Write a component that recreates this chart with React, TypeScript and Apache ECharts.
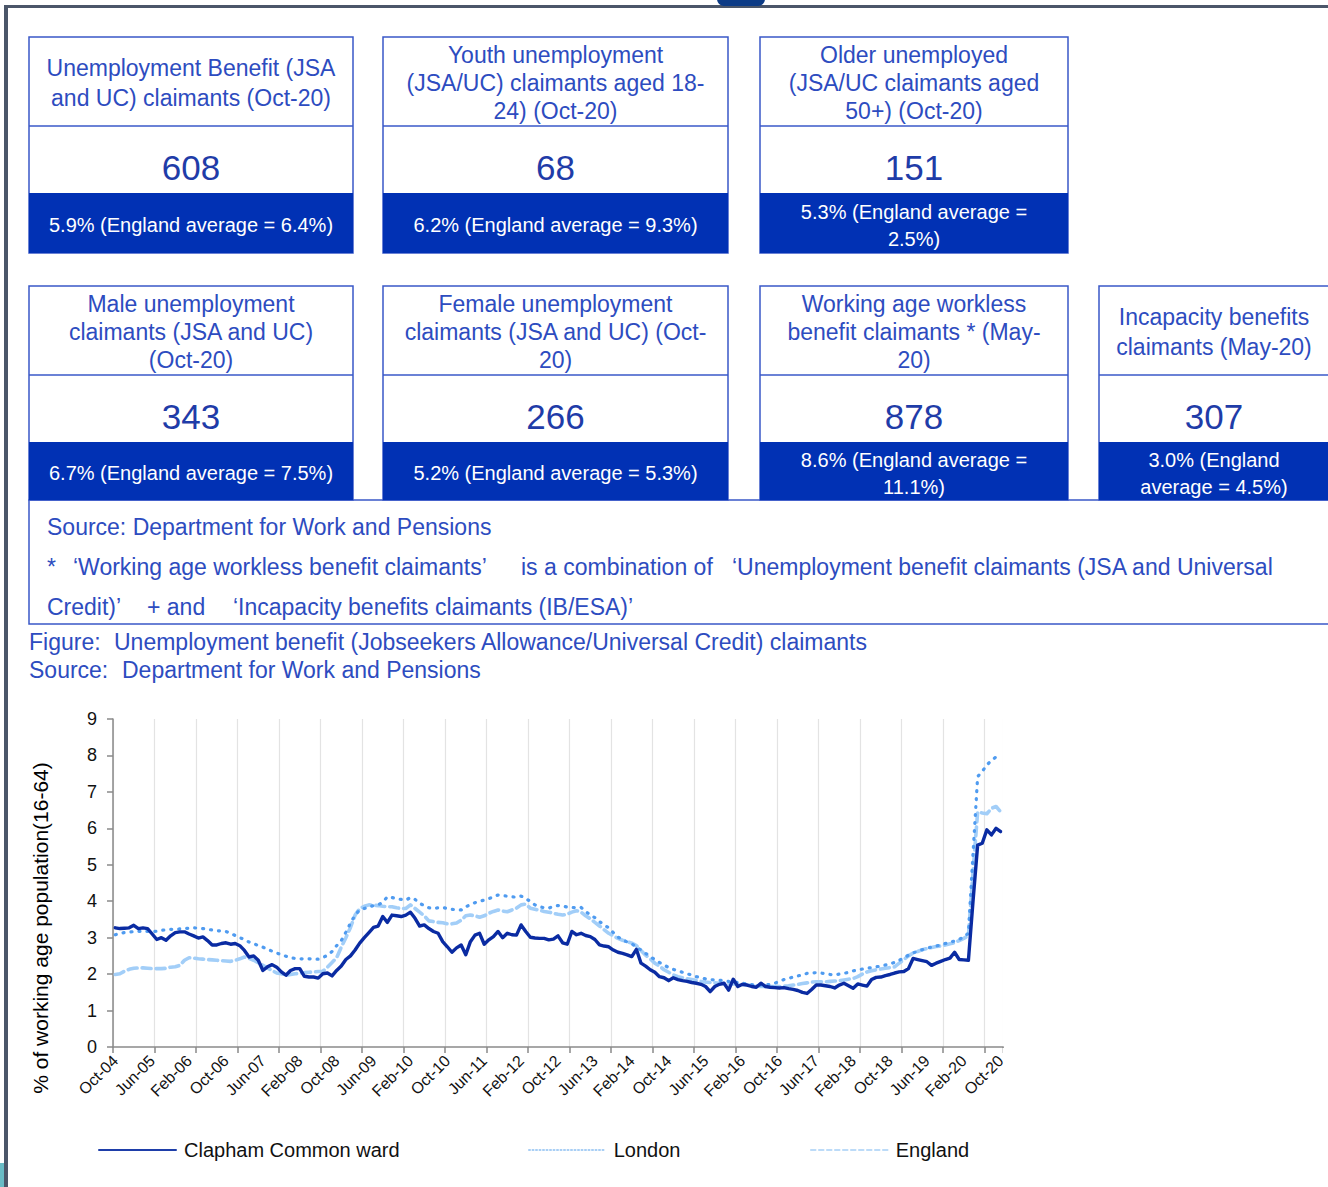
import React, { useEffect, useRef } from "react";
import * as echarts from "echarts";

// ---------------- Data ----------------
const MONTH_NAMES = ["Jan", "Feb", "Mar", "Apr", "May", "Jun", "Jul", "Aug", "Sep", "Oct", "Nov", "Dec"];
const FIRST_YEAR = 2004;
const FIRST_MONTH_INDEX = 9; // Oct-04
const MONTH_COUNT = 193; // Oct-04 .. Oct-20
const categories: string[] = Array.from({ length: MONTH_COUNT }, (_, i) => {
  const m = (FIRST_MONTH_INDEX + i) % 12;
  const y = FIRST_YEAR + Math.floor((FIRST_MONTH_INDEX + i) / 12);
  return `${MONTH_NAMES[m]}-${String(y % 100).padStart(2, "0")}`;
});

const SERIES_NAMES = ["Clapham Common ward", "London", "England"];

const claphamValues = [
  3.27, 3.25, 3.26, 3.27, 3.34, 3.25, 3.27, 3.25, 3.10, 2.95, 3.00, 2.93,
  3.05, 3.14, 3.16, 3.16, 3.10, 3.05, 2.99, 3.02, 2.92, 2.80, 2.80, 2.84,
  2.86, 2.82, 2.84, 2.78, 2.65, 2.47, 2.50, 2.38, 2.10, 2.20, 2.26, 2.19,
  2.06, 1.97, 2.10, 2.15, 2.15, 1.94, 1.92, 1.92, 1.89, 2.01, 2.03, 1.95,
  2.10, 2.22, 2.40, 2.50, 2.66, 2.85, 3.00, 3.14, 3.28, 3.32, 3.58, 3.42,
  3.62, 3.60, 3.58, 3.62, 3.70, 3.53, 3.32, 3.35, 3.25, 3.17, 3.12, 2.89,
  2.75, 2.60, 2.72, 2.80, 2.53, 2.89, 3.07, 3.12, 2.82, 2.94, 3.03, 3.17,
  3.00, 3.12, 3.08, 3.07, 3.35, 3.17, 3.01, 2.99, 2.98, 2.98, 2.94, 2.96,
  3.05, 2.86, 2.82, 3.17, 3.08, 3.12, 3.06, 3.03, 2.95, 2.80, 2.77, 2.75,
  2.66, 2.60, 2.57, 2.53, 2.48, 2.68, 2.30, 2.22, 2.12, 2.05, 1.93, 1.90,
  1.82, 1.90, 1.85, 1.82, 1.80, 1.77, 1.75, 1.72, 1.66, 1.52, 1.66, 1.72,
  1.75, 1.56, 1.86, 1.66, 1.72, 1.70, 1.66, 1.64, 1.75, 1.66, 1.64, 1.63,
  1.62, 1.63, 1.60, 1.58, 1.55, 1.50, 1.47, 1.58, 1.70, 1.70, 1.68, 1.66,
  1.62, 1.70, 1.75, 1.68, 1.61, 1.73, 1.70, 1.67, 1.85, 1.91, 1.92, 1.96,
  1.99, 2.03, 2.06, 2.07, 2.15, 2.43, 2.40, 2.37, 2.34, 2.24, 2.30, 2.35,
  2.40, 2.44, 2.60, 2.40, 2.39, 2.38, 4.00, 5.54, 5.59, 5.96, 5.82, 6.00,
  5.91,
];

const londonValues = [
  3.08, 3.12, 3.14, 3.15, 3.17, 3.17, 3.18, 3.17, 3.16, 3.18, 3.20, 3.22,
  3.23, 3.23, 3.24, 3.25, 3.26, 3.27, 3.26, 3.25, 3.23, 3.21, 3.19, 3.18,
  3.17, 3.12, 3.06, 3.00, 2.95, 2.88, 2.84, 2.78, 2.74, 2.68, 2.63, 2.58,
  2.53, 2.49, 2.45, 2.43, 2.42, 2.42, 2.42, 2.41, 2.41, 2.45, 2.52, 2.62,
  2.78, 2.92, 3.15, 3.40, 3.62, 3.76, 3.80, 3.84, 3.88, 3.90, 3.97, 4.12,
  4.10, 4.07, 4.05, 4.03, 4.10, 4.05, 3.94, 3.88, 3.82, 3.80, 3.82, 3.83,
  3.80, 3.78, 3.76, 3.76, 3.85, 3.90, 3.96, 4.00, 4.03, 4.07, 4.12, 4.17,
  4.15, 4.14, 4.12, 4.11, 4.14, 4.08, 3.99, 3.90, 3.85, 3.82, 3.81, 3.86,
  3.88, 3.87, 3.84, 3.83, 3.82, 3.83, 3.72, 3.62, 3.55, 3.44, 3.35, 3.27,
  3.14, 3.02, 2.94, 2.88, 2.83, 2.75, 2.66, 2.57, 2.48, 2.40, 2.32, 2.25,
  2.18, 2.13, 2.09, 2.05, 2.01, 1.97, 1.93, 1.90, 1.87, 1.85, 1.84, 1.83,
  1.82, 1.80, 1.78, 1.77, 1.75, 1.73, 1.71, 1.70, 1.70, 1.70, 1.72, 1.75,
  1.80, 1.85, 1.88, 1.92, 1.95, 1.98, 2.02, 2.03, 2.04, 2.03, 2.01, 1.99,
  1.98, 2.00, 2.02, 2.05, 2.09, 2.11, 2.14, 2.16, 2.18, 2.20, 2.22, 2.25,
  2.28, 2.32, 2.38, 2.45, 2.52, 2.58, 2.63, 2.67, 2.71, 2.74, 2.77, 2.80,
  2.84, 2.87, 2.91, 2.95, 3.03, 3.12, 5.30, 7.42, 7.56, 7.74, 7.86, 7.96,
  8.00,
];

const englandValues = [
  1.99, 2.01, 2.08, 2.13, 2.16, 2.17, 2.17, 2.16, 2.15, 2.15, 2.15, 2.16,
  2.19, 2.20, 2.24, 2.38, 2.45, 2.44, 2.42, 2.41, 2.40, 2.39, 2.38, 2.37,
  2.36, 2.35, 2.38, 2.42, 2.47, 2.43, 2.38, 2.31, 2.24, 2.17, 2.10, 2.03,
  2.01, 1.97, 1.99, 2.01, 2.02, 2.04, 2.05, 2.06, 2.07, 2.08, 2.19, 2.32,
  2.45, 2.74, 3.00, 3.28, 3.62, 3.80, 3.86, 3.90, 3.89, 3.88, 3.86, 3.85,
  3.85, 3.82, 3.80, 3.80, 3.90, 3.80, 3.70, 3.60, 3.46, 3.44, 3.42, 3.41,
  3.38, 3.38, 3.40, 3.48, 3.60, 3.62, 3.60, 3.56, 3.60, 3.67, 3.72, 3.76,
  3.73, 3.71, 3.76, 3.81, 3.90, 3.92, 3.81, 3.78, 3.75, 3.72, 3.70, 3.67,
  3.64, 3.62, 3.64, 3.70, 3.74, 3.70, 3.60, 3.52, 3.42, 3.32, 3.22, 3.12,
  3.05, 2.98, 2.93, 2.89, 2.85, 2.78, 2.65, 2.52, 2.42, 2.30, 2.22, 2.12,
  2.05, 1.98, 1.93, 1.90, 1.87, 1.85, 1.82, 1.80, 1.78, 1.77, 1.76, 1.75,
  1.74, 1.73, 1.73, 1.72, 1.71, 1.70, 1.69, 1.68, 1.66, 1.66, 1.66, 1.66,
  1.66, 1.67, 1.68, 1.70, 1.72, 1.74, 1.76, 1.78, 1.79, 1.79, 1.79, 1.80,
  1.81, 1.82, 1.84, 1.86, 1.88, 1.93, 2.00, 2.06, 2.09, 2.12, 2.14, 2.16,
  2.18, 2.20, 2.30, 2.40, 2.50, 2.58, 2.62, 2.67, 2.70, 2.73, 2.76, 2.77,
  2.80, 2.83, 2.86, 2.92, 2.98, 3.05, 4.80, 6.45, 6.42, 6.40, 6.55, 6.60,
  6.45,
];

const Y_MIN = 0;
const Y_MAX = 9;
const Y_INTERVAL = 1;
const Y_AXIS_TITLE = "% of working age population(16-64)";

// Summary boxes
const BOX_TITLES = [
  ["Unemployment Benefit (JSA", "and UC) claimants (Oct-20)"],
  ["Youth unemployment", "(JSA/UC) claimants aged 18-", "24) (Oct-20)"],
  ["Older unemployed", "(JSA/UC claimants aged", "50+) (Oct-20)"],
  ["Male unemployment", "claimants (JSA and UC)", "(Oct-20)"],
  ["Female unemployment", "claimants (JSA and UC) (Oct-", "20)"],
  ["Working age workless", "benefit claimants * (May-", "20)"],
  ["Incapacity benefits", "claimants (May-20)"],
];
const BOX_VALUES = ["608", "68", "151", "343", "266", "878", "307"];
const BOX_NOTES = [
  ["5.9% (England average = 6.4%)"],
  ["6.2% (England average = 9.3%)"],
  ["5.3% (England average =", "2.5%)"],
  ["6.7% (England average = 7.5%)"],
  ["5.2% (England average = 5.3%)"],
  ["8.6% (England average =", "11.1%)"],
  ["3.0% (England", "average = 4.5%)"],
];
const FOOTNOTE_SEGMENTS = [
  ["Source: Department for Work and Pensions"],
  ["*", "‘Working age workless benefit claimants’", "is a combination of", "‘Unemployment benefit claimants (JSA and Universal"],
  ["Credit)’", "+ and", "‘Incapacity benefits claimants (IB/ESA)’"],
];
const CAPTION_SEGMENTS = [
  ["Figure:", "Unemployment benefit (Jobseekers Allowance/Universal Credit) claimants"],
  ["Source:", "Department for Work and Pensions"],
];

// ---------------- Layout / style ----------------
const W = 1328;
const H = 1187;
const FONT = '"Liberation Sans", Arial, sans-serif';
const BORDER = "#3a58c8";
const BLUE_FILL = "#0131b4";
const HEAD_TEXT = "#2d4cc0";
const NUM_TEXT = "#1f3ca8";
const COLS = [[29, 353], [383, 728], [760, 1068], [1099, 1329]];
const ROWS = [
  { top: 37, div: 126, blue: 193, bottom: 253 },
  { top: 286, div: 375, blue: 442, bottom: 500 },
];
const BOX_POS = [[0, 0], [0, 1], [0, 2], [1, 0], [1, 1], [1, 2], [1, 3]];
const FOOTNOTE_X = [[47], [47, 73, 521, 732], [47, 147, 233]];
const FOOTNOTE_Y = [527, 567, 607];
const CAPTION_X = [[29, 114], [29, 122]];
const CAPTION_Y = [642, 670];

const GRID = { left: 113, top: 719, width: 890, height: 328 };

function txt(x: number, y: number, text: string, size: number, fill: string, align = "center", extra: any = {}) {
  return {
    type: "text",
    x,
    y,
    silent: true,
    ...extra,
    style: {
      text,
      fill,
      font: `${size}px ${FONT}`,
      fontSize: size,
      fontFamily: FONT,
      align,
      textAlign: align,
      verticalAlign: "middle",
      textVerticalAlign: "middle",
    },
  };
}

function buildGraphics() {
  const els: any[] = [];
  // page frame
  els.push({ type: "rect", shape: { x: 4, y: 5, width: W - 4, height: 3 }, style: { fill: "#4b5669" } });
  els.push({ type: "rect", shape: { x: 4, y: 5, width: 4, height: H - 5 }, style: { fill: "#4b5669" } });
  els.push({ type: "rect", shape: { x: 717, y: -8, width: 48, height: 14, r: 7 }, style: { fill: "#0c3b86" } });
  els.push({ type: "rect", shape: { x: 0, y: 1163, width: 4, height: 24 }, style: { fill: "#69bcc6" } });

  // footnote box (drawn first so the boxes sit on top)
  els.push({
    type: "rect",
    shape: { x: 29, y: 500, width: 1300, height: 124 },
    style: { fill: "#fff", stroke: BORDER, lineWidth: 1.5 },
  });

  BOX_TITLES.forEach((title, i) => {
    const [r, c] = BOX_POS[i];
    const row = ROWS[r];
    const [x1, x2] = COLS[c];
    const cx = (x1 + x2) / 2;
    els.push({
      type: "rect",
      shape: { x: x1, y: row.top, width: x2 - x1, height: row.bottom - row.top },
      style: { fill: "#fff", stroke: BORDER, lineWidth: 1.5 },
    });
    els.push({
      type: "line",
      shape: { x1, y1: row.div, x2, y2: row.div },
      style: { stroke: BORDER, lineWidth: 1.5 },
    });
    els.push({
      type: "rect",
      shape: { x: x1, y: row.blue, width: x2 - x1, height: row.bottom - row.blue },
      style: { fill: BLUE_FILL },
    });
    const headMid = (row.top + row.div) / 2 + 1.5;
    const step = title.length === 3 ? 28 : 30;
    title.forEach((line, k) => {
      const y = headMid + (k - (title.length - 1) / 2) * step;
      els.push(txt(cx, y, line, 23, HEAD_TEXT));
    });
    els.push(txt(cx, (row.div + row.blue) / 2 + 8, BOX_VALUES[i], 35, NUM_TEXT));
    const notes = BOX_NOTES[i];
    const noteMid = (row.blue + row.bottom) / 2 + (notes.length === 1 ? 1.5 : 2);
    notes.forEach((line, k) => {
      const y = noteMid + (k - (notes.length - 1) / 2) * 27;
      els.push(txt(cx, y, line, 20, "#ffffff"));
    });
  });

  FOOTNOTE_SEGMENTS.forEach((segs, li) => {
    segs.forEach((s, si) => {
      els.push(txt(FOOTNOTE_X[li][si], FOOTNOTE_Y[li], s, 23, HEAD_TEXT, "left"));
    });
  });
  CAPTION_SEGMENTS.forEach((segs, li) => {
    segs.forEach((s, si) => {
      els.push(txt(CAPTION_X[li][si], CAPTION_Y[li], s, 23, HEAD_TEXT, "left"));
    });
  });

  // y axis title
  els.push(txt(40, 928, Y_AXIS_TITLE, 21, "#000000", "center", { rotation: Math.PI / 2 }));

  // mask the extra band-end gridline / tick that ECharts adds at the right end of the category axis
  els.push({ type: "rect", z: 100, shape: { x: 1002.4, y: 712, width: 3, height: 334 }, style: { fill: "#ffffff" } });
  els.push({ type: "rect", z: 100, shape: { x: 1002.4, y: 1048, width: 3, height: 8 }, style: { fill: "#ffffff" } });
  return els;
}

const SERIES_STYLE = [
  { color: "#0a2ba2", width: 3.4, type: "solid" as any, legendType: "solid" as any, legendColor: "#1e3ea9", legendWidth: 2, left: 98 },
  { color: "#4f9bf0", width: 3.2, type: [1, 7] as any, legendType: [1.5, 2] as any, legendColor: "#8cbff2", legendWidth: 1.5, left: 528 },
  { color: "#a2cef8", width: 3.6, type: [9, 5] as any, legendType: [5, 3] as any, legendColor: "#a6cff6", legendWidth: 1.5, left: 810 },
];

export default function App() {
  const ref = useRef<HTMLDivElement>(null);
  useEffect(() => {
    if (!ref.current) return;
    const chart = echarts.init(ref.current, null, { renderer: "svg", width: W, height: H });
    const seriesData = [claphamValues, londonValues, englandValues];
    const drawOrder = [2, 1, 0];
    const option: any = {
      animation: false,
      backgroundColor: "#ffffff",
      textStyle: { fontFamily: FONT },
      grid: { ...GRID, containLabel: false },
      xAxis: {
        type: "category",
        data: categories,
        boundaryGap: true,
        axisLine: { show: true, lineStyle: { color: "#8a8a8a", width: 1.5 } },
        axisTick: { show: true, interval: 8, length: 6, lineStyle: { color: "#8a8a8a", width: 1.5 } },
        splitLine: { show: true, interval: 8, lineStyle: { color: "#e3e3e3", width: 1.2 } },
        axisLabel: {
          interval: 7,
          rotate: 45,
          fontSize: 16,
          color: "#111111",
          fontFamily: FONT,
          margin: 11,
        },
      },
      yAxis: {
        type: "value",
        min: Y_MIN,
        max: Y_MAX,
        interval: Y_INTERVAL,
        axisLine: { show: true, lineStyle: { color: "#8a8a8a", width: 1.5 } },
        axisTick: { show: true, inside: false, length: 6, lineStyle: { color: "#8a8a8a", width: 1.5 } },
        splitLine: { show: false },
        axisLabel: { fontSize: 18, color: "#111111", fontFamily: FONT, margin: 16 },
      },
      legend: SERIES_NAMES.map((name, i) => ({
        data: [name],
        left: SERIES_STYLE[i].left,
        top: 1140,
        padding: 0,
        itemWidth: 77,
        itemHeight: 14,
        selectedMode: false,
        itemStyle: { opacity: 0 },
        textStyle: { fontSize: 20, color: "#111111", fontFamily: FONT, padding: [0, 0, 0, 3] },
        lineStyle: { width: SERIES_STYLE[i].legendWidth, type: SERIES_STYLE[i].legendType, color: SERIES_STYLE[i].legendColor, opacity: 1 },
      })),
      series: drawOrder.map((i) => ({
        name: SERIES_NAMES[i],
        type: "line",
        data: seriesData[i],
        symbol: "none",
        showSymbol: false,
        smooth: false,
        color: SERIES_STYLE[i].color,
        lineStyle: {
          color: SERIES_STYLE[i].color,
          width: SERIES_STYLE[i].width,
          type: SERIES_STYLE[i].type,
          cap: "round",
          join: "round",
        },
        emphasis: { disabled: true },
      })),
      graphic: { elements: buildGraphics() },
    };
    chart.setOption(option);
    return () => chart.dispose();
  }, []);
  return (
    <div
      ref={ref}
      style={{ position: "absolute", left: 0, top: 0, width: W, height: H, background: "#ffffff" }}
    />
  );
}
